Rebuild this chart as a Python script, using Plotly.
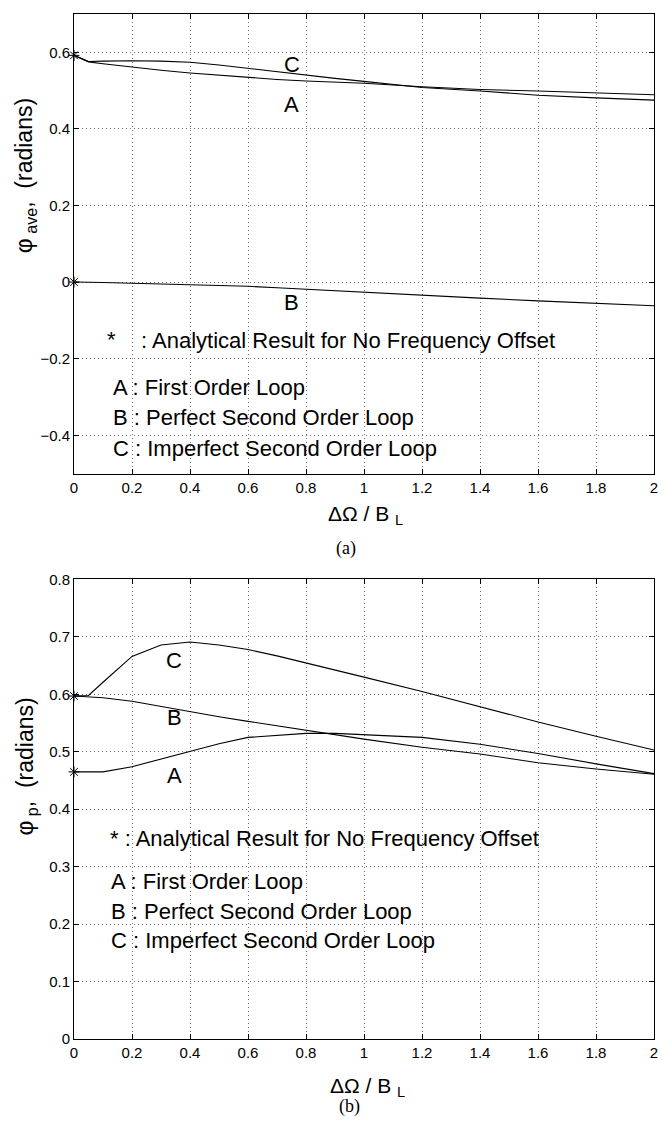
import plotly.graph_objects as go

# ---------------- data ----------------
offset = [0, 0.05, 0.1, 0.2, 0.3, 0.4, 0.5, 0.6, 0.7, 0.8, 0.9, 1.0, 1.2, 1.4, 1.6, 1.8, 2.0]

# (a) phi_ave
ave_A = [0.592, 0.575, 0.570, 0.561, 0.553, 0.546, 0.540, 0.534, 0.529, 0.525, 0.522, 0.519, 0.510, 0.503, 0.499, 0.495, 0.489]
ave_B = [0.0, 0.0, -0.001, -0.003, -0.005, -0.007, -0.009, -0.011, -0.015, -0.019, -0.023, -0.027, -0.035, -0.042, -0.049, -0.056, -0.062]
ave_C = [0.592, 0.576, 0.577, 0.578, 0.577, 0.574, 0.567, 0.558, 0.550, 0.541, 0.532, 0.524, 0.508, 0.499, 0.488, 0.481, 0.475]
ave_star_x = [0, 0]
ave_star_y = [0.592, 0.0]

# (b) phi_p
p_A = [0.465, 0.465, 0.465, 0.474, 0.487, 0.501, 0.514, 0.525, 0.529, 0.532, 0.532, 0.530, 0.525, 0.513, 0.497, 0.479, 0.462]
p_B = [0.597, 0.596, 0.594, 0.588, 0.579, 0.569, 0.561, 0.553, 0.545, 0.537, 0.530, 0.522, 0.508, 0.496, 0.481, 0.470, 0.461]
p_C = [0.597, 0.598, 0.621, 0.666, 0.686, 0.691, 0.686, 0.678, 0.667, 0.655, 0.643, 0.630, 0.605, 0.578, 0.552, 0.527, 0.503]
p_star_x = [0, 0]
p_star_y = [0.597, 0.465]

legend_lines = ["A : First Order Loop", "B : Perfect Second Order Loop", "C : Imperfect Second Order Loop"]

# ---------------- figure ----------------
W, H = 663, 1123
L, R, T, B = 74, 5, 13, 84
PW = W - L - R
PH = H - T - B

def px(xp):
    return (xp - L) / PW

def py(yp):
    return (H - B - yp) / PH

FONT = "Liberation Sans, Arial, Helvetica, sans-serif"
line = dict(color="black", width=1.1)
star = dict(symbol="asterisk-open", size=9, color="black", line=dict(width=1, color="black"))

fig = go.Figure()
for ys in (ave_A, ave_B, ave_C):
    fig.add_trace(go.Scatter(x=offset, y=ys, mode="lines", line=line, xaxis="x", yaxis="y", showlegend=False))
fig.add_trace(go.Scatter(x=ave_star_x, y=ave_star_y, mode="markers", marker=star,
                         xaxis="x", yaxis="y", showlegend=False, cliponaxis=False))
for ys in (p_A, p_B, p_C):
    fig.add_trace(go.Scatter(x=offset, y=ys, mode="lines", line=line, xaxis="x2", yaxis="y2", showlegend=False))
fig.add_trace(go.Scatter(x=p_star_x, y=p_star_y, mode="markers", marker=star,
                         xaxis="x2", yaxis="y2", showlegend=False, cliponaxis=False))

axis_common = dict(
    showline=True, linecolor="black", linewidth=1, mirror="allticks",
    ticks="inside", ticklen=5, tickcolor="black", tickwidth=1,
    showgrid=True, gridcolor="#6f6f6f", gridwidth=1, griddash="1px,3px",
    zeroline=False, tickfont=dict(family=FONT, size=15, color="black"),
)

top_dom = [py(473), 1.0]
bot_dom = [0.0, py(579)]

fig.update_layout(
    width=W, height=H,
    margin=dict(l=L, r=R, t=T, b=B),
    paper_bgcolor="white", plot_bgcolor="white",
    xaxis=dict(axis_common, range=[0, 2], dtick=0.2, tick0=0, anchor="y", domain=[0, 1]),
    yaxis=dict(axis_common, range=[-0.5, 0.7], dtick=0.2, tick0=0, anchor="x", domain=top_dom),
    xaxis2=dict(axis_common, range=[0, 2], dtick=0.2, tick0=0, anchor="y2", domain=[0, 1]),
    yaxis2=dict(axis_common, range=[0, 0.8], dtick=0.1, tick0=0, anchor="x2", domain=bot_dom),
)

ann = []
def txt(text, x, y, xref, yref, size=22, xanchor="left", yanchor="middle", angle=0, family=FONT):
    ann.append(dict(text=text, x=x, y=y, xref=xref, yref=yref, showarrow=False,
                    xanchor=xanchor, yanchor=yanchor, textangle=angle,
                    font=dict(family=family, size=size, color="black")))

# top plot texts
txt("C", 0.75, 0.567, "x", "y", xanchor="center")
txt("A", 0.75, 0.463, "x", "y", xanchor="center")
txt("B", 0.75, -0.054, "x", "y", xanchor="center")
txt("*", 0.106, -0.150, "x", "y")
txt(": Analytical Result for No Frequency Offset", 0.223, -0.153, "x", "y")
for s, yv in zip(legend_lines, [-0.276, -0.354, -0.435]):
    txt(s, 0.127, yv, "x", "y")

# bottom plot texts
txt("C", 0.346, 0.659, "x2", "y2", xanchor="center")
txt("B", 0.346, 0.5605, "x2", "y2", xanchor="center")
txt("A", 0.346, 0.459, "x2", "y2", xanchor="center")
txt("* : Analytical Result for No Frequency Offset", 0.116, 0.3496, "x2", "y2")
for s, yv in zip(legend_lines, [0.2736, 0.2226, 0.172]):
    txt(s, 0.121, yv, "x2", "y2")

# axis titles
txt("ΔΩ / B <sub>L</sub>", px(368), py(514), "paper", "paper", size=21, xanchor="center")
txt("ΔΩ / B <sub>L</sub>", px(370), py(1087), "paper", "paper", size=21, xanchor="center")
txt("φ<sub> ave</sub>,  (radians)", px(26), py(175), "paper", "paper", size=23, xanchor="center", angle=-90)
txt("φ<sub> p</sub>,  (radians)", px(26), py(766), "paper", "paper", size=23, xanchor="center", angle=-90)
txt("(a)", px(348), py(548), "paper", "paper", size=18, xanchor="center", family="Liberation Serif, Times New Roman, serif")
txt("(b)", px(351), py(1107), "paper", "paper", size=18, xanchor="center", family="Liberation Serif, Times New Roman, serif")

fig.update_layout(annotations=ann)
fig.write_html("out.html")
